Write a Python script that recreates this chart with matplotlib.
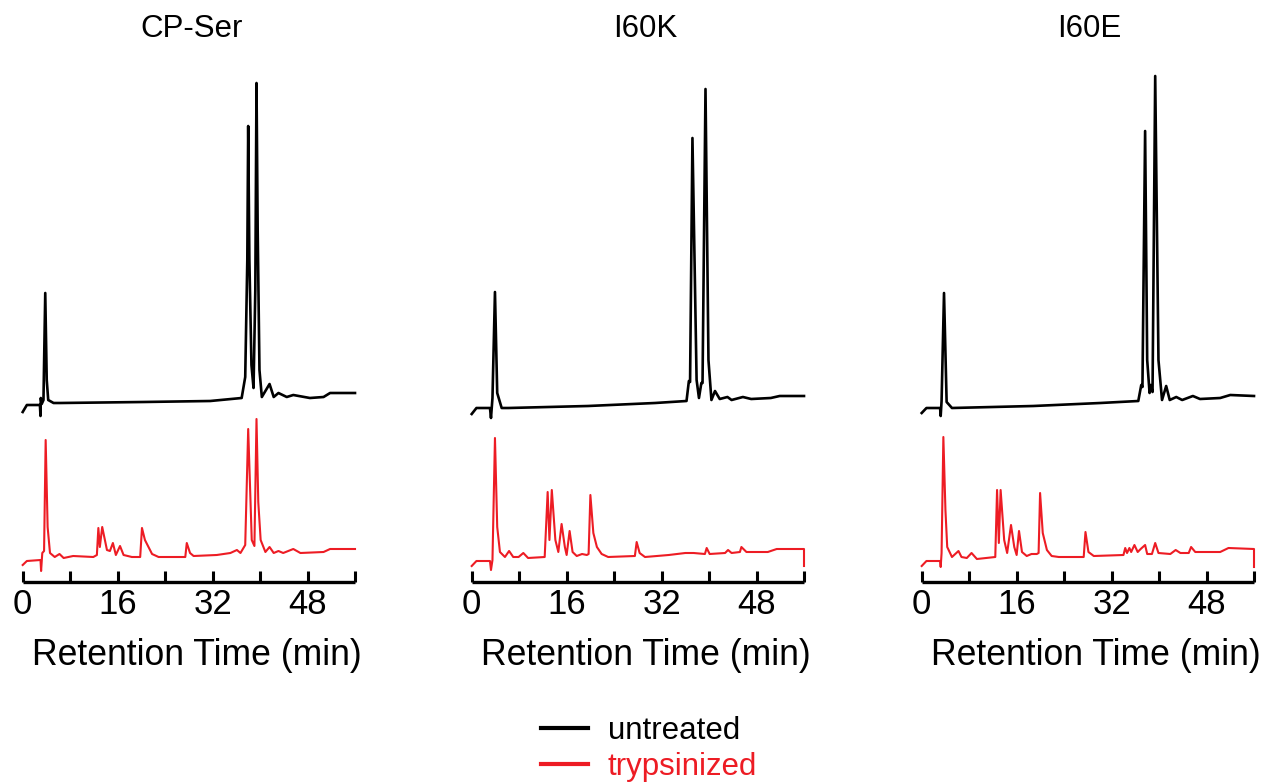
import matplotlib
matplotlib.use("Agg")
import matplotlib.pyplot as plt
from matplotlib.lines import Line2D

plt.rcParams['font.family'] = ['Liberation Sans', 'DejaVu Sans']

# ---------------- data (retention time in min, absorbance in a.u.) ----------------
panel_titles = ["CP-Ser", "I60K", "I60E"]
series_labels = ["untreated", "trypsinized"]
major_ticks = [0, 16, 32, 48]
minor_ticks = [8, 24, 40, 56]

cpser_untreated_t = [0.0, 0.7, 2.9, 3.0, 3.05, 3.2, 3.5, 3.8, 4.05, 4.3, 5.2, 6.3, 20.3, 31.6, 36.9,
                     37.5, 37.85, 38.0, 38.2, 38.55, 38.9, 39.2, 39.4, 39.6, 39.9, 40.3, 41.6, 42.3,
                     43.1, 44.5, 45.6, 48.4, 50.7, 51.8, 56.0]
cpser_untreated = [-2, 5, 5, -6, 12, 6, 10, 117, 30, 10, 7, 7, 8, 9, 12,
                   33, 150, 284, 150, 45, 22, 120, 327, 180, 40, 13, 26, 13,
                   17, 13, 15, 12, 13, 17, 17]

cpser_tryp_t = [0.0, 0.7, 3.0, 3.1, 3.3, 3.6, 3.87, 4.2, 4.6, 5.4, 6.2, 6.9, 8.5, 11.9, 12.5, 12.75,
                13.0, 13.4, 14.2, 14.7, 15.2, 15.7, 16.4, 17.0, 18.4, 19.8, 20.1, 20.6, 21.8, 22.9,
                27.4, 27.65, 28.2, 28.8, 32.7, 35.0, 36.1, 36.7, 37.5, 38.0, 38.6, 39.05, 39.4, 39.7,
                40.1, 40.9, 41.6, 42.3, 43.1, 43.9, 45.6, 46.8, 50.7, 51.8, 56.0]
cpser_tryp = [-2, 2, 3, -8, 10, 12, 123, 36, 10, 6, 9, 5, 7, 6, 8, 35,
              16, 36, 13, 12, 20, 8, 17, 8, 6, 6, 35, 23, 9, 6,
              6, 20, 10, 7, 8, 10, 13, 10, 18, 134, 23, 17, 144, 61,
              23, 11, 16, 10, 12, 10, 14, 10, 11, 14, 14]

i60k_untreated_t = [0.0, 0.8, 3.08, 3.25, 3.5, 3.92, 4.3, 5.05, 6.2, 19.6, 30.9, 36.2, 36.6, 36.8,
                    37.2, 37.9, 38.3, 38.7, 38.9, 39.4, 39.9, 40.4, 41.0, 41.8, 43.1, 43.8, 45.7,
                    47.1, 50.4, 51.9, 56.0]
i60k_untreated = [-4, 2, 2, -8, 12, 118, 17, 2, 2, 4, 7, 9, 29, 28,
                  272, 30, 12, 27, 27, 321, 50, 10, 19, 11, 13, 10, 13,
                  11, 12, 14, 14]

i60k_tryp_t = [0.0, 0.8, 3.08, 3.25, 3.5, 3.92, 4.3, 4.76, 5.6, 6.3, 7.0, 7.9, 8.7, 9.5, 12.3, 12.8,
               13.1, 13.5, 14.1, 14.6, 15.15, 15.7, 16.0, 16.5, 17.0, 17.7, 18.6, 19.4, 19.7, 20.0,
               20.5, 21.1, 21.9, 23.0, 27.5, 27.8, 28.3, 29.2, 33.2, 36.0, 37.4, 39.3, 39.6, 40.1,
               42.7, 43.2, 43.8, 45.2, 45.45, 46.3, 49.9, 51.4, 56.0, 56.0]
i60k_tryp = [-3, 2, 2, -7, 3, 125, 36, 11, 6, 12, 6, 6, 10, 5, 6, 71,
             23, 73, 23, 11, 39, 16, 8, 32, 11, 7, 9, 8, 9, 68,
             30, 16, 9, 6, 7, 21, 10, 6, 8, 10, 10, 9, 15, 9,
             10, 13, 10, 11, 16, 11, 11, 14, 14, -3]

i60e_untreated_t = [0.0, 0.8, 3.1, 3.2, 3.35, 3.76, 4.2, 5.1, 18.8, 30.1, 36.5, 37.0, 37.2, 37.65,
                    38.0, 38.4, 38.6, 38.9, 39.35, 39.9, 40.5, 41.2, 41.8, 42.9, 43.9, 45.7, 46.9,
                    50.3, 52.0, 56.0]
i60e_untreated = [-3, 2, 2, -6, 9, 117, 8, 2, 4, 7, 9, 25, 23, 279,
                  50, 17, 25, 18, 334, 50, 10, 24, 10, 13, 10, 14, 11,
                  12, 15, 14]

i60e_tryp_t = [0.0, 0.8, 3.1, 3.2, 3.35, 3.65, 4.0, 4.3, 5.1, 6.2, 6.7, 7.6, 8.4, 9.3, 12.4, 12.7,
               13.0, 13.3, 13.9, 14.4, 15.05, 15.6, 16.0, 16.4, 16.9, 17.7, 18.5, 19.4, 19.7, 19.95,
               20.4, 21.1, 21.9, 23.1, 27.3, 27.6, 28.1, 29.0, 34.0, 34.3, 34.6, 35.0, 35.3, 35.85,
               36.4, 36.9, 37.65, 38.0, 38.8, 39.35, 39.9, 41.9, 42.8, 43.6, 45.0, 45.4, 46.1, 50.3,
               51.7, 56.0, 56.0]
i60e_tryp = [-3, 2, 2, -4, 10, 126, 53, 16, 6, 12, 6, 5, 10, 4, 6, 73,
             20, 73, 23, 10, 38, 16, 8, 32, 11, 7, 9, 9, 10, 70,
             30, 13, 7, 6, 6, 31, 11, 7, 8, 15, 10, 15, 11, 18,
             11, 14, 18, 9, 9, 20, 10, 9, 13, 10, 10, 16, 11, 11,
             15, 14, -4]

panels = [
    (cpser_untreated_t, cpser_untreated, cpser_tryp_t, cpser_tryp),
    (i60k_untreated_t, i60k_untreated, i60k_tryp_t, i60k_tryp),
    (i60e_untreated_t, i60e_untreated, i60e_tryp_t, i60e_tryp),
]

# ---------------- style / layout ----------------
W, H = 1262, 784
BLACK = "#000000"
RED = "#ED1C24"
STACK_OFFSET = 153  # vertical offset of untreated trace above trypsinized trace

fig = plt.figure(figsize=(W / 100, H / 100), dpi=100)

left_px = [22.7, 471.7, 921.7]
width_px = 332.3
axis_y_px = 581.5
top_px = 70
title_x_px = [192, 645, 1089]

for i, (tu, vu, tt, vt) in enumerate(panels):
    ax = fig.add_axes([left_px[i] / W, 1 - axis_y_px / H, width_px / W, (axis_y_px - top_px) / H])
    ax.plot(tu, [v + STACK_OFFSET for v in vu], color=BLACK, lw=1.9, solid_joinstyle='round', clip_on=False)
    ax.plot(tt, vt, color=RED, lw=1.5, solid_joinstyle='round', clip_on=False)
    ax.set_xlim(0, 56)
    ax.set_ylim(-18.5, 493)
    for s in ["top", "left", "right"]:
        ax.spines[s].set_visible(False)
    ax.spines["bottom"].set_linewidth(2.4)
    ax.spines["bottom"].set_capstyle('butt')
    ax.set_yticks([])
    ax.set_xticks(major_ticks)
    ax.set_xticks(minor_ticks, minor=True)
    ax.set_xticklabels([str(t) for t in major_ticks])
    ax.tick_params(axis='x', which='both', direction='in', length=8, width=2.2, pad=5,
                   labelsize=25)
    ax.text(0.5 + 0.025, (axis_y_px - 665) / (axis_y_px - top_px), "Retention Time (min)",
            transform=ax.transAxes, ha='center', va='baseline', fontsize=25.6)
    fig.text(title_x_px[i] / W, 1 - 36.7 / H, panel_titles[i], ha='center', va='baseline',
             fontsize=22.5)

handles = [Line2D([], [], color=BLACK, lw=3), Line2D([], [], color=RED, lw=3)]
leg = fig.legend(handles, series_labels, loc='center', bbox_to_anchor=(649 / W, 1 - 749 / H),
                 frameon=False, fontsize=22.5, handlelength=1.5, handletextpad=0.64,
                 labelspacing=0.2, labelcolor='linecolor', borderpad=0)

fig.savefig("out.png", dpi=100)
